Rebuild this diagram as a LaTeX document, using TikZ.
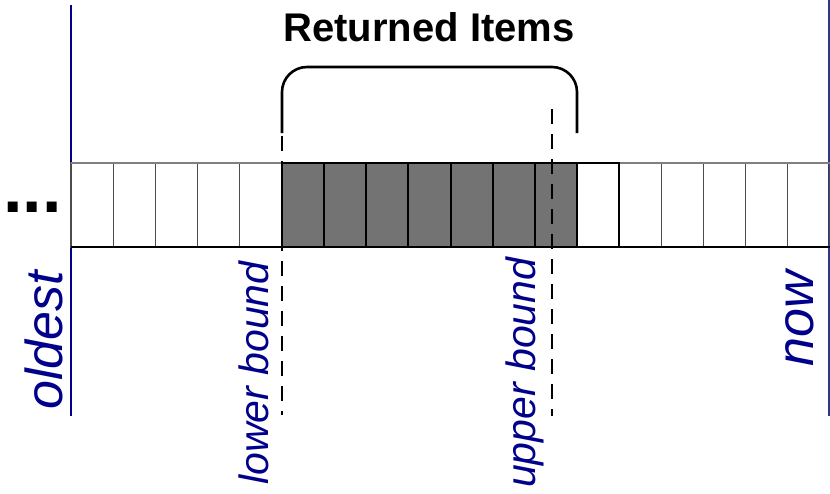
\documentclass[tikz,border=0pt]{standalone}
\usepackage{fontspec}
\setmainfont{Liberation Sans}
\definecolor{labelblue}{RGB}{0,0,139}
\definecolor{itemgray}{RGB}{115,115,115}

\begin{document}
\begin{tikzpicture}[x=1pt, y=-1pt,
    cell/.style={
        rectangle,
        draw=black!70,
        line width=1.2pt,
        minimum width=42.17pt,
        minimum height=84pt,
        inner sep=0pt,
        outer sep=0pt
    },
    returned/.style={
        cell,
        draw=black,
        fill=itemgray,
        line width=2pt
    },
    nextcell/.style={
        cell,
        draw=black,
        line width=2.4pt
    },
    bound/.style={
        line width=1.8pt,
        dash pattern=on 15pt off 10pt
    },
    marker/.style={
        text=labelblue,
        font=\fontsize{52}{60}\selectfont\itshape,
        inner sep=0pt,
        rotate=90,
        anchor=base west
    },
    boundlabel/.style={
        marker,
        font=\fontsize{41}{48}\selectfont\itshape
    }
]
\useasboundingbox (0,0) rectangle (830,493);

% Time line ends
\draw[labelblue, line width=2pt] (71,5) -- (71,416);
\draw[labelblue!60!gray, line width=1.2pt] (829,0) -- (829,416);

% Cells
\foreach \i in {1,...,5,14,15,...,18}
    \node[cell] (cell\i) at ({71+42.17*(\i-0.5)},205) {};
\draw[black!50, line width=1.4pt] (cell1.north west) -- (cell18.north east);
\draw[black, line width=1.4pt] (cell1.south west) -- (cell18.south east);
\foreach \i in {6,...,12}
    \node[returned] (cell\i) at ({71+42.17*(\i-0.5)},205) {};
\node[nextcell] (cell13) at ({71+42.17*12.5},205) {};

% More items before
\node[font=\fontsize{70}{80}\selectfont\bfseries, inner sep=0pt, anchor=base west] (more) at (3,212) {...};

% Returned range
\draw[line width=2.6pt, rounded corners=25pt] (282,133) -- (282,67) -- (577,67) -- (577,133);
\node[font=\fontsize{40}{48}\selectfont\bfseries, inner sep=0pt, anchor=base] (title) at (429,41) {Returned Items};

% Bounds
\coordinate (lowtop) at (282,136);
\coordinate (lowend) at (282,415);
\coordinate (uptop) at (552,109);
\coordinate (upend) at (552,416);
\draw[bound] (lowtop) -- (lowend);
\draw[bound] (uptop) -- (upend);

% Labels
\node[marker] (oldest) at (62,410) {oldest};
\node[boundlabel] (lower) at (268,485) {lower bound};
\node[boundlabel] (upper) at (535,488) {upper bound};
\node[marker] (now) at (813,367) {now};

\end{tikzpicture}
\end{document}
